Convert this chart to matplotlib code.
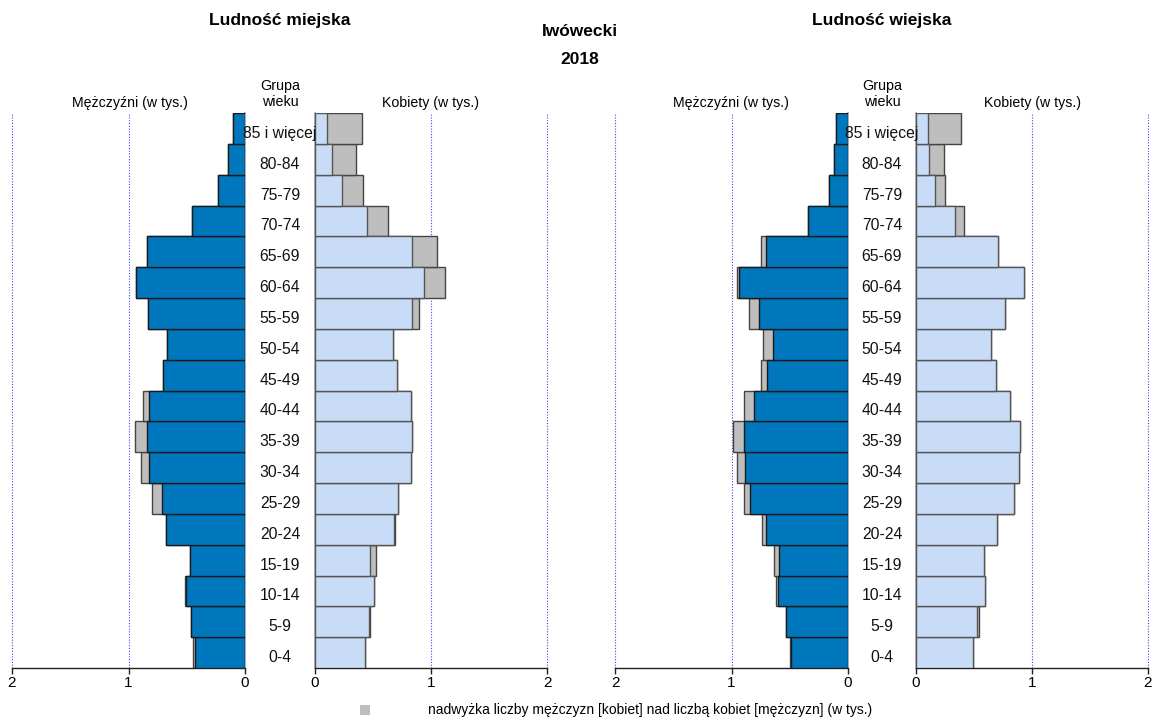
import matplotlib
matplotlib.use("Agg")
import matplotlib.pyplot as plt
from matplotlib.transforms import blended_transform_factory, ScaledTranslation
from matplotlib.patches import Rectangle

plt.rcParams['font.family'] = ['Liberation Sans', 'DejaVu Sans']

ages = ['0-4', '5-9', '10-14', '15-19', '20-24', '25-29', '30-34', '35-39', '40-44',
        '45-49', '50-54', '55-59', '60-64', '65-69', '70-74', '75-79', '80-84', '85 i więcej']

urban_men = [0.446, 0.464, 0.515, 0.471, 0.681, 0.799, 0.892, 0.944, 0.879,
             0.706, 0.669, 0.836, 0.938, 0.839, 0.452, 0.232, 0.149, 0.105]
urban_women = [0.427, 0.471, 0.508, 0.526, 0.686, 0.714, 0.828, 0.837, 0.828,
               0.708, 0.674, 0.895, 1.117, 1.055, 0.631, 0.412, 0.351, 0.403]
rural_men = [0.497, 0.529, 0.614, 0.632, 0.736, 0.894, 0.951, 0.985, 0.891,
             0.745, 0.726, 0.848, 0.951, 0.745, 0.340, 0.167, 0.116, 0.100]
rural_women = [0.492, 0.544, 0.599, 0.590, 0.702, 0.842, 0.888, 0.894, 0.809,
               0.693, 0.647, 0.763, 0.933, 0.705, 0.416, 0.252, 0.243, 0.386]

ticks = [0, 1, 2]
title_main = 'Iwówecki'
year = '2018'
title_urban = 'Ludność miejska'
title_rural = 'Ludność wiejska'
lbl_men = 'Mężczyźni (w tys.)'
lbl_women = 'Kobiety (w tys.)'
lbl_group = 'Grupa\nwieku'
legend_text = 'nadwyżka liczby mężczyzn [kobiet] nad liczbą kobiet [mężczyzn] (w tys.)'

W, H = 1153, 719
fig = plt.figure(figsize=(W / 100, H / 100), dpi=100)

MEN_C = '#0077BD'
WOMEN_C = '#C9DCF7'
EXC_C = '#BEBEBE'
GRID_C = '#4040FF'


def fx(x):
    return x / W


def fy(y):
    return 1 - y / H


TOP, BOT = 113, 668


def make_ax(x0, x1, inverted):
    ax = fig.add_axes([fx(x0), fy(BOT), (x1 - x0) / W, (BOT - TOP) / H])
    ax.set_xlim(0, 2)
    if inverted:
        ax.invert_xaxis()
    ax.set_ylim(-0.5, len(ages) - 0.5)
    ax.spines['top'].set_visible(False)
    side_inner = 'right' if inverted else 'left'
    side_outer = 'left' if inverted else 'right'
    ax.spines[side_outer].set_visible(False)
    ax.spines[side_inner].set_color('#999999')
    ax.spines[side_inner].set_linewidth(1.2)
    ax.spines['bottom'].set_color('#222222')
    ax.spines['bottom'].set_linewidth(1.0)
    ax.set_yticks([])
    ax.set_xticks(ticks)
    ax.set_xticklabels([str(t) for t in ticks])
    ax.tick_params(axis='x', length=4, width=1, color='#222222', labelsize=11, pad=2)
    for t in ticks[1:]:
        ax.axvline(t, color=GRID_C, linestyle=(0, (1, 1.5)), linewidth=0.8,
                   zorder=0, clip_on=False)
    return ax


def draw(ax, vals, other, color, edge):
    y = list(range(len(ages)))
    ax.barh(y, vals, height=1.0, color=EXC_C, edgecolor='#444444', linewidth=1.0, zorder=2)
    mins = [min(a, b) for a, b in zip(vals, other)]
    ax.barh(y, mins, height=1.0, color=color, edgecolor=edge, linewidth=1.0, zorder=3)


panels = [
    (12, 245, 315, 547, urban_men, urban_women, 280, 130, 431, title_urban),
    (615, 848, 916, 1148, rural_men, rural_women, 882, 731, 1033, title_rural),
]

for mx0, mx1, wx0, wx1, men, women, cx, mcx, wcx, ttl in panels:
    axm = make_ax(mx0, mx1, True)
    axw = make_ax(wx0, wx1, False)
    draw(axm, men, women, MEN_C, '#1a1a1a')
    draw(axw, women, men, WOMEN_C, '#555555')
    tr = blended_transform_factory(fig.transFigure, axm.transData) + \
        ScaledTranslation(0, -5 / 100, fig.dpi_scale_trans)
    for i, a in enumerate(ages):
        fig.text(fx(cx), i, a, transform=tr, ha='center', va='center',
                 fontsize=11.3, color='#111111')
    fig.text(fx(cx), fy(20), ttl, ha='center', va='center', fontsize=12.5,
             fontweight='bold')
    fig.text(fx(cx), fy(94), lbl_group, ha='center', va='center', fontsize=10.3,
             linespacing=1.15)
    fig.text(fx(mcx), fy(103), lbl_men, ha='center', va='center', fontsize=10.2)
    fig.text(fx(wcx), fy(103), lbl_women, ha='center', va='center', fontsize=10.2)

fig.text(fx(580), fy(32), title_main, ha='center', va='center', fontsize=12.5,
         fontweight='bold')
fig.text(fx(580), fy(60), year, ha='center', va='center', fontsize=12.5,
         fontweight='bold')

fig.patches.append(Rectangle((fx(360), fy(715)), 10 / W, 10 / H, transform=fig.transFigure,
                             facecolor=EXC_C, edgecolor='none'))
fig.text(fx(428), fy(710), legend_text, ha='left', va='center', fontsize=10)

fig.savefig('out.png', dpi=100)
